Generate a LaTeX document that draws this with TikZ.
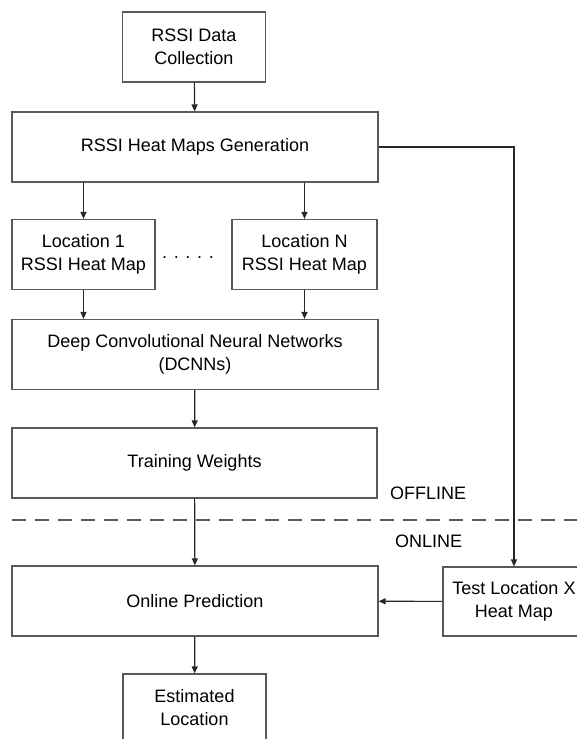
\documentclass[tikz,border=0pt]{standalone}
\usepackage{fontspec}
\setmainfont{Liberation Sans}
\usetikzlibrary{arrows.meta}

\begin{document}
\begin{tikzpicture}
[x=0.5pt,y=-0.5pt,
every node/.style={align=center,font=\fontsize{9}{11.5}\selectfont},
block/.style={draw=black!65,line width=0.6pt,inner sep=0pt},
small/.style={block,minimum width=71.5pt,minimum height=35pt},
wide/.style={block,minimum width=183pt,minimum height=35pt},
flow/.style={draw=black!85,line width=0.6pt,-{Triangle[length=3.5pt,width=3pt]}},
]
\useasboundingbox (0,0) rectangle (577,739);

\node[small] (data) at (194,47) {RSSI Data\\Collection};
\node[wide] (gen) at (195,147) {RSSI Heat Maps Generation};
\node[small] (loc1) at (83.5,254.5) {Location 1\\RSSI Heat Map};
\node[small,minimum width=72.5pt] (locn) at (304.5,254.5) {Location N\\RSSI Heat Map};
\node[anchor=base] (dots) at (188,258) {. . . . .};
\node[wide] (dcnn) at (195,354.5) {Deep Convolutional Neural Networks\\(DCNNs)};
\node[wide,minimum width=182.5pt] (weights) at (194.5,463) {Training Weights};
\node[wide] (online) at (195,601) {Online Prediction};
\node[block,minimum width=71pt,minimum height=34.5pt] (test) at (514,601.5) {Test Location X\\Heat Map};
\node[small,minimum height=34pt] (est) at (194.5,708) {Estimated\\Location};

% offline / online split
\coordinate (splitl) at (12,520);
\coordinate (splitr) at (577,520);
\draw[black!65,line width=0.6pt,dash pattern=on 7pt off 4.5pt] (splitl) -- (splitr);
\node[anchor=west] (offline) at (383,493) {OFFLINE};
\node[anchor=west] (onl) at (388,541) {ONLINE};

\draw[flow] (data) -- (gen);
\draw[flow] (gen.south -| loc1) -- (loc1);
\draw[flow] (gen.south -| locn) -- (locn);
\draw[flow] (loc1) -- (loc1 |- dcnn.north);
\draw[flow] (locn) -- (locn |- dcnn.north);
\draw[flow] (dcnn) -- (weights);
\draw[flow] (weights) -- (online);
\draw[flow] (gen.east) -| (test.north);
\draw[flow] (test) -- (online);
\draw[flow] (online) -- (est);
\end{tikzpicture}
\end{document}
